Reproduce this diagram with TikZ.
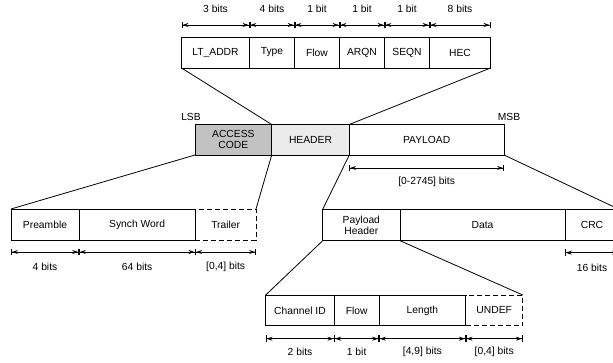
\documentclass[tikz,border=0pt]{standalone}
\usepackage{fontspec}
\setmainfont{Liberation Sans}
\usetikzlibrary{arrows.meta,calc}
\definecolor{acgray}{HTML}{C2C2C2}
\definecolor{hdgray}{HTML}{EBEBEB}
\begin{document}
\begin{tikzpicture}[x=1pt,y=-1pt,
  every node/.style={font=\fontsize{10.3}{10.7}\selectfont},
  box/.style={draw, line width=0.9pt, inner sep=0pt, outer sep=0pt, anchor=north west, align=center},
  dbox/.style={box, dash pattern=on 5pt off 3pt},
  conn/.style={line width=0.8pt},
  dim/.style={line width=0.8pt,
    {Bar[width=6.5pt]Stealth[length=6pt,width=4pt,inset=2pt]}-{Stealth[length=6pt,width=4pt,inset=2pt]Bar[width=6.5pt]}},
  lbl/.style={inner sep=0pt}
]
\path[use as bounding box] (0,0) rectangle (613,363);

% ---------- header fields (top) ----------
\begin{scope}[every node/.append style={minimum height=31pt}]
\node[box, minimum width=68pt] (lt) at (181.5,37) {LT\_ADDR};
\node[box, minimum width=45pt] (ty) at (lt.north east) {Type};
\node[box, minimum width=45pt] (fl) at (ty.north east) {Flow};
\node[box, minimum width=45pt] (aq) at (fl.north east) {ARQN};
\node[box, minimum width=45pt] (sq) at (aq.north east) {SEQN};
\node[box, minimum width=61pt] (hec) at (sq.north east) {HEC};
\end{scope}
\draw[dim] ([yshift=12pt]lt.north west) -- node[lbl, yshift=16pt]{3 bits} ([yshift=12pt]lt.north east);
\draw[dim] ([yshift=12pt]ty.north west) -- node[lbl, yshift=16pt]{4 bits} ([yshift=12pt]ty.north east);
\draw[dim] ([yshift=12pt]fl.north west) -- node[lbl, yshift=16pt]{1 bit} ([yshift=12pt]fl.north east);
\draw[dim] ([yshift=12pt]aq.north west) -- node[lbl, yshift=16pt]{1 bit} ([yshift=12pt]aq.north east);
\draw[dim] ([yshift=12pt]sq.north west) -- node[lbl, yshift=16pt]{1 bit} ([yshift=12pt]sq.north east);
\draw[dim] ([yshift=12pt]hec.north west) -- node[lbl, yshift=16pt]{8 bits} ([yshift=12pt]hec.north east);

% ---------- main packet ----------
\begin{scope}[every node/.append style={minimum height=30.5pt}]
\node[box, fill=acgray, minimum width=76.7pt] (ac) at (195,124.5) {ACCESS\\CODE};
\node[box, fill=hdgray, minimum width=77.6pt] (hd) at (ac.north east) {HEADER};
\node[box, minimum width=154.7pt] (pl) at (hd.north east) {PAYLOAD};
\end{scope}
\node[lbl] (lsb) at ([shift={(-4pt,8pt)}]ac.north west) {LSB};
\node[lbl] (msb) at ([shift={(5pt,8pt)}]pl.north east) {MSB};
\draw[dim] ([yshift=-13pt]pl.south west) -- node[lbl, yshift=-14pt]{[0-2745] bits} ([yshift=-13pt]pl.south east);

% ---------- access code ----------
\begin{scope}[every node/.append style={minimum height=31pt}]
\node[dbox, minimum width=60.7pt] (tr) at (195.3,209) {Trailer};
\node[box, minimum width=68pt] (pre) at (11,209) {Preamble};
\node[box, minimum width=116.3pt] (sw) at (pre.north east) {Synch Word};
\end{scope}
\draw[dim] ([yshift=-12pt]pre.south west) -- node[lbl, yshift=-15pt]{4 bits} ([yshift=-12pt]pre.south east);
\draw[dim] ([yshift=-12pt]sw.south west) -- node[lbl, yshift=-15pt]{64 bits} ([yshift=-12pt]sw.south east);
\draw[dim] ([yshift=-12pt]tr.south west) -- node[lbl, yshift=-15pt]{[0,4] bits} ([yshift=-12pt]tr.south east);

% ---------- payload ----------
\begin{scope}[every node/.append style={minimum height=31.4pt}]
\node[box, minimum width=77.3pt] (ph) at (322.7,209.3) {Payload\\Header};
\node[box, minimum width=165pt] (da) at (ph.north east) {Data};
\node[box, minimum width=54pt] (crc) at (da.north east) {CRC};
\end{scope}
\draw[dim] ([yshift=-12pt]crc.south west) -- node[lbl, yshift=-15pt]{16 bits} ([yshift=-12pt]crc.south east);

% ---------- payload header ----------
\begin{scope}[every node/.append style={minimum height=30.7pt}]
\node[dbox, minimum width=57pt] (un) at (465.7,295) {UNDEF};
\node[box, minimum width=68.6pt] (ch) at (265.7,295) {Channel ID};
\node[box, minimum width=44.7pt] (pf) at (ch.north east) {Flow};
\node[box, minimum width=86.7pt] (ln) at (pf.north east) {Length};
\end{scope}
\draw[dim] ([yshift=-13pt]ch.south west) -- node[lbl, yshift=-13pt]{2 bits} ([yshift=-13pt]ch.south east);
\draw[dim] ([yshift=-13pt]pf.south west) -- node[lbl, yshift=-13pt]{1 bit} ([yshift=-13pt]pf.south east);
\draw[dim] ([yshift=-13pt]ln.south west) -- node[lbl, yshift=-13pt]{[4,9] bits} ([yshift=-13pt]ln.south east);
\draw[dim] ([yshift=-13pt]un.south west) -- node[lbl, yshift=-13pt]{[0,4] bits} ([yshift=-13pt]un.south east);

% ---------- expansion lines ----------
\draw[conn] (lt.south west) -- (hd.north west);
\draw[conn] (hec.south east) -- (hd.north east);
\draw[conn] (ac.south west) -- (pre.north west);
\draw[conn] (hd.south west) -- (tr.north east);
\draw[conn] (pl.south west) -- (ph.north west);
\draw[conn] (pl.south east) -- (crc.north east);
\draw[conn] (ph.south west) -- (ch.north west);
\draw[conn] (ph.south east) -- (un.north east);
\end{tikzpicture}
\end{document}
